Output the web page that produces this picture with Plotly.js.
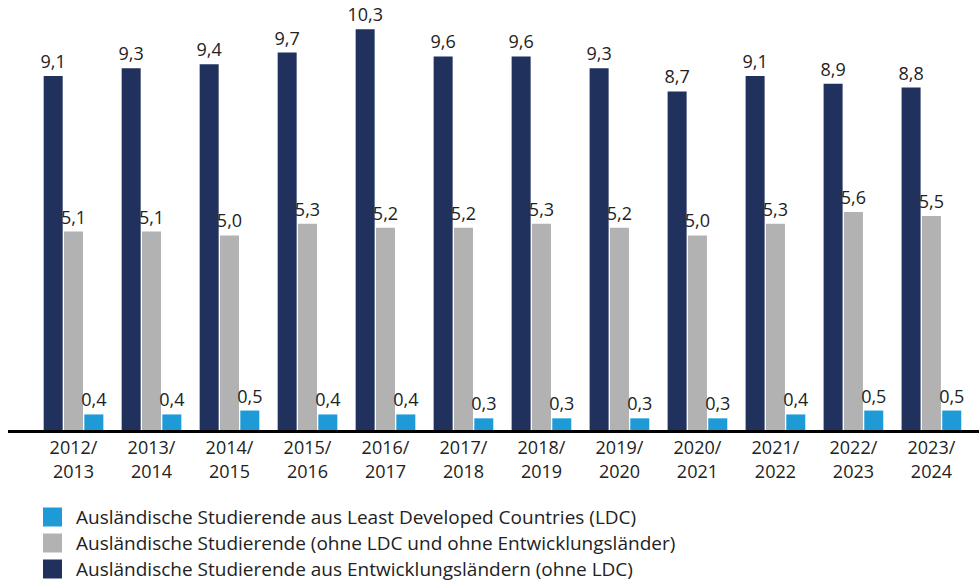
<!DOCTYPE html>
<html>
<head>
<meta charset="utf-8">
<script src="https://cdn.plot.ly/plotly-3.0.1.min.js"></script>
<style>html,body{margin:0;padding:0;background:#fff;}#chart{width:979px;height:581px;}</style>
</head>
<body>
<div id="chart"></div>
<script>
const categories = ["2012/<br>2013","2013/<br>2014","2014/<br>2015","2015/<br>2016","2016/<br>2017","2017/<br>2018","2018/<br>2019","2019/<br>2020","2020/<br>2021","2021/<br>2022","2022/<br>2023","2023/<br>2024"];
const developing = [9.1, 9.3, 9.4, 9.7, 10.3, 9.6, 9.6, 9.3, 8.7, 9.1, 8.9, 8.8];
const other = [5.1, 5.1, 5.0, 5.3, 5.2, 5.2, 5.3, 5.2, 5.0, 5.3, 5.6, 5.5];
const ldc = [0.4, 0.4, 0.5, 0.4, 0.4, 0.3, 0.3, 0.3, 0.3, 0.4, 0.5, 0.5];
const seriesNames = [
  "Ausländische Studierende aus Entwicklungsländern (ohne LDC)",
  "Ausländische Studierende (ohne LDC und ohne Entwicklungsländer)",
  "Ausländische Studierende aus Least Developed Countries (LDC)"
];
const colors = ["#21315e", "#b2b2b2", "#1e9bd7"];
const fmt = v => v.toFixed(1).replace(".", ",");
const xs = categories.map((c, i) => i);
const seriesData = [developing, other, ldc];
const traces = seriesData.map((vals, k) => ({
  type: "bar", x: xs, y: vals, name: seriesNames[k],
  marker: {color: colors[k]},
  text: vals.map(fmt), textposition: "outside", cliponaxis: false,
  constraintext: "none",
  textfont: {family: "Open Sans", size: 18, color: "#222"},
  hoverinfo: "none"
}));

const W = 979, H = 581;
const m = {l: 8, r: 0, t: 2, b: 151};
const pw = W - m.l - m.r, ph = H - m.t - m.b;
const px = x => (x - m.l) / pw;
const py = y => (H - m.b - y) / ph;

// legend (top to bottom: LDC, other, developing)
const legendOrder = [2, 1, 0];
const legendRowY = [517, 543, 569];
const shapes = [];
const annotations = [];
legendOrder.forEach((k, r) => {
  const cy = legendRowY[r];
  shapes.push({type: "rect", xref: "paper", yref: "paper",
    x0: px(43), x1: px(62), y0: py(cy - 9.5), y1: py(cy + 9.5),
    fillcolor: colors[k], line: {width: 0}});
  annotations.push({xref: "paper", yref: "paper", x: px(74), y: py(cy),
    xanchor: "left", yanchor: "middle", showarrow: false, text: seriesNames[k],
    font: {family: "Open Sans", size: 19, color: "#222"}});
});

const layout = {
  width: W, height: H, margin: m,
  paper_bgcolor: "#fff", plot_bgcolor: "#fff",
  barmode: "group", bargap: 0.218, bargroupgap: 0.065,
  showlegend: false,
  xaxis: {
    range: [-0.84, 11.61], tickmode: "array", tickvals: xs, ticktext: categories,
    showline: true, linecolor: "#000", linewidth: 2.5, ticks: "", showgrid: false,
    zeroline: false, fixedrange: true,
    tickfont: {family: "Open Sans", size: 18, color: "#222"}
  },
  yaxis: {range: [0, 11], visible: false, showgrid: false, zeroline: false, fixedrange: true},
  shapes: shapes, annotations: annotations
};
Plotly.newPlot("chart", traces, layout, {displayModeBar: false, staticPlot: true});
</script>
</body>
</html>
